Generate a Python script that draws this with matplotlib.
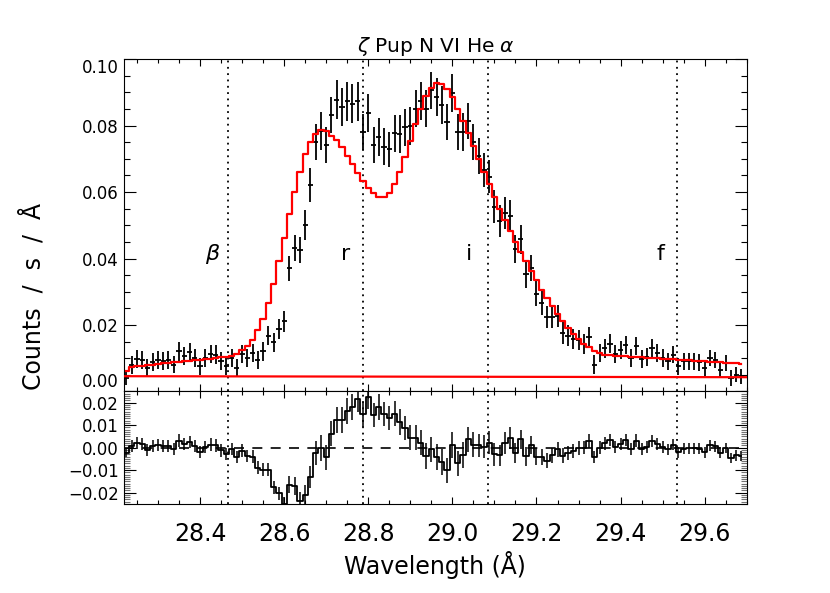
import numpy as np
import matplotlib
matplotlib.use('Agg')
import matplotlib.pyplot as plt
from matplotlib.ticker import MultipleLocator, FuncFormatter

# bin centres (LETG, 0.0125 A bins)
wave = 28.225 + 0.0125 * np.arange(118)

flux = [0.0040, 0.0081, 0.0098, 0.0094, 0.0071, 0.0088, 0.0096, 0.0091, 0.0094, 0.0081,
        0.0121, 0.0108, 0.0118, 0.0101, 0.0076, 0.0101, 0.0113, 0.0111, 0.0091, 0.0076,
        0.0101, 0.0071, 0.0113, 0.0101, 0.0116, 0.0096, 0.0121, 0.0168, 0.0148, 0.0188,
        0.0211, 0.0370, 0.0431, 0.0426, 0.0501, 0.0621, 0.0751, 0.0784, 0.0741, 0.0831,
        0.0878, 0.0856, 0.0873, 0.0866, 0.0873, 0.0781, 0.0838, 0.0741, 0.0766, 0.0736,
        0.0728, 0.0776, 0.0774, 0.0794, 0.0799, 0.0851, 0.0874, 0.0851, 0.0906, 0.0886,
        0.0861, 0.0811, 0.0899, 0.0781, 0.0781, 0.0814, 0.0751, 0.0708, 0.0666, 0.0646,
        0.0556, 0.0514, 0.0538, 0.0528, 0.0428, 0.0458, 0.0354, 0.0371, 0.0294, 0.0266,
        0.0224, 0.0223, 0.0228, 0.0176, 0.0168, 0.0158, 0.0156, 0.0144, 0.0164, 0.0081,
        0.0116, 0.0130, 0.0144, 0.0113, 0.0124, 0.0141, 0.0101, 0.0136, 0.0098, 0.0104,
        0.0131, 0.0116, 0.0101, 0.0091, 0.0111, 0.0076, 0.0091, 0.0091, 0.0091, 0.0088,
        0.0071, 0.0101, 0.0096, 0.0066, 0.0086, 0.0041, 0.0051, 0.0046]

# 1-sigma errors
err = [0.0020, 0.0027, 0.0027, 0.0027, 0.0026, 0.0027, 0.0027, 0.0027, 0.0027, 0.0026,
       0.0028, 0.0027, 0.0028, 0.0027, 0.0026, 0.0027, 0.0028, 0.0028, 0.0027, 0.0026,
       0.0027, 0.0026, 0.0028, 0.0027, 0.0028, 0.0027, 0.0028, 0.0029, 0.0029, 0.0030,
       0.0031, 0.0037, 0.0040, 0.0040, 0.0045, 0.0050, 0.0055, 0.0057, 0.0055, 0.0055,
       0.0058, 0.0058, 0.0058, 0.0058, 0.0058, 0.0055, 0.0057, 0.0055, 0.0057, 0.0055,
       0.0053, 0.0055, 0.0057, 0.0055, 0.0057, 0.0055, 0.0057, 0.0057, 0.0055, 0.0057,
       0.0057, 0.0055, 0.0057, 0.0055, 0.0057, 0.0055, 0.0055, 0.0053, 0.0050, 0.0050,
       0.0050, 0.0048, 0.0048, 0.0048, 0.0043, 0.0043, 0.0042, 0.0040, 0.0038, 0.0035,
       0.0034, 0.0033, 0.0033, 0.0032, 0.0031, 0.0031, 0.0030, 0.0030, 0.0030, 0.0028,
       0.0028, 0.0028, 0.0028, 0.0027, 0.0027, 0.0027, 0.0027, 0.0027, 0.0026, 0.0026,
       0.0026, 0.0026, 0.0026, 0.0025, 0.0025, 0.0025, 0.0025, 0.0025, 0.0025, 0.0025,
       0.0024, 0.0024, 0.0024, 0.0024, 0.0024, 0.0023, 0.0023, 0.0023]

# model (red histogram)
model = [0.0063, 0.0073, 0.0076, 0.0078, 0.0080, 0.0081, 0.0083, 0.0085, 0.0086, 0.0088,
         0.0089, 0.0091, 0.0092, 0.0094, 0.0095, 0.0097, 0.0099, 0.0101, 0.0103, 0.0105,
         0.0108, 0.0113, 0.0126, 0.0138, 0.0156, 0.0184, 0.0219, 0.0266, 0.0324, 0.0391,
         0.0463, 0.0534, 0.0601, 0.0661, 0.0713, 0.0751, 0.0774, 0.0786, 0.0784, 0.0769,
         0.0756, 0.0734, 0.0708, 0.0684, 0.0656, 0.0633, 0.0611, 0.0596, 0.0586, 0.0586,
         0.0596, 0.0624, 0.0659, 0.0706, 0.0754, 0.0806, 0.0851, 0.0888, 0.0913, 0.0928,
         0.0924, 0.0911, 0.0886, 0.0851, 0.0814, 0.0776, 0.0738, 0.0698, 0.0661, 0.0623,
         0.0586, 0.0548, 0.0516, 0.0484, 0.0451, 0.0421, 0.0391, 0.0361, 0.0334, 0.0306,
         0.0281, 0.0256, 0.0234, 0.0211, 0.0191, 0.0174, 0.0158, 0.0144, 0.0134, 0.0123,
         0.0116, 0.0111, 0.0110, 0.0108, 0.0107, 0.0106, 0.0105, 0.0104, 0.0103, 0.0102,
         0.0101, 0.0100, 0.0099, 0.0098, 0.0097, 0.0096, 0.0095, 0.0094, 0.0093, 0.0092,
         0.0091, 0.0090, 0.0089, 0.0088, 0.0087, 0.0086, 0.0085, 0.0084]

# continuum level
cont_wave = [28.22, 29.70]
cont_flux = [0.0046, 0.0043]

# line positions
line_waves = [28.466, 28.787, 29.084, 29.535]
line_names = [r'$\beta$', 'r', 'i', 'f']
label_shift = [-0.035, -0.040, -0.045, -0.040]

top_ticks = [0.00, 0.02, 0.04, 0.06, 0.08, 0.10]
res_ticks = [-0.02, -0.01, 0.00, 0.01, 0.02]

flux = np.array(flux)
model = np.array(model)
resid = flux - model

plt.rcParams['font.family'] = ['DejaVu Sans']
plt.rcParams['mathtext.fontset'] = 'dejavusans'

fig = plt.figure(figsize=(8.3, 5.93), dpi=100)
ax1 = fig.add_axes([0.1498, 0.3398, 0.7499, 0.5607])
ax2 = fig.add_axes([0.1498, 0.1501, 0.7499, 0.1897])

# top panel
ax1.errorbar(wave, flux, yerr=err, xerr=0.00625, fmt='none', ecolor='k',
             elinewidth=1.3, capsize=0, zorder=3)
ax1.plot(wave, model, drawstyle='steps-mid', color='red', lw=1.6, zorder=4)
ax1.plot(cont_wave, cont_flux, color='red', lw=1.6, zorder=4)
for w, name, dx in zip(line_waves, line_names, label_shift):
    ax1.axvline(w, color='k', ls=(0, (1, 2.5)), lw=1.3)
    ax1.text(w + dx, 0.0415, name, fontsize=16, ha='center', va='center')

ax1.set_xlim(28.22, 29.70)
ax1.set_ylim(0, 0.10)
ax1.xaxis.set_major_locator(MultipleLocator(0.2))
ax1.xaxis.set_minor_locator(MultipleLocator(0.05))
ax1.set_yticks(top_ticks)
ax1.set_yticklabels(['%.2f' % v for v in top_ticks])
ax1.yaxis.set_minor_locator(MultipleLocator(0.005))
ax1.tick_params(labelbottom=False)
ylabs = ax1.get_yticklabels()
ylabs[0].set_va('bottom')
ylabs[-1].set_va('top')
ax1.set_title(r'$\zeta$ Pup N VI He $\alpha$', fontsize=14.5, pad=5)

# residual panel
ax2.errorbar(wave, resid, yerr=err, fmt='none', ecolor='k', elinewidth=1.1,
             capsize=0, zorder=3)
ax2.plot(wave, resid, drawstyle='steps-mid', color='k', lw=1.3, zorder=4)
ax2.axhline(0, color='k', ls=(0, (6, 5)), lw=1.2)
for w in line_waves:
    ax2.axvline(w, color='k', ls=(0, (1, 2.5)), lw=1.3)

ax2.set_xlim(28.22, 29.70)
ax2.set_ylim(-0.025, 0.025)
ax2.xaxis.set_major_locator(MultipleLocator(0.2))
ax2.xaxis.set_minor_locator(MultipleLocator(0.05))
ax2.set_yticks(res_ticks)
ax2.set_yticklabels([('%.2f' % v).replace('-', '\u2212') for v in res_ticks])
ax2.yaxis.set_minor_locator(MultipleLocator(0.001))
ax2.xaxis.set_major_formatter(FuncFormatter(lambda v, p: '%.1f' % v))

for ax in (ax1, ax2):
    ax.tick_params(which='both', direction='in', top=True, right=True, width=0.8)
    ax.tick_params(axis='y', which='major', length=8.5, labelsize=12, pad=4)
    ax.tick_params(axis='y', which='minor', length=4.3)
    ax.tick_params(axis='x', which='major', length=5)
    ax.tick_params(axis='x', which='minor', length=3)
    for s in ax.spines.values():
        s.set_linewidth(0.8)
ax2.tick_params(axis='x', which='major', labelsize=17, pad=13)
ax2.tick_params(axis='y', which='minor', length=4, color='0.45')

fig.text(435 / 830, 1 - 565 / 593, 'Wavelength (\u00c5)', fontsize=17,
         ha='center', va='center')
fig.text(33 / 830, 1 - 296 / 593, 'Counts  /  s  /  \u00c5', fontsize=17,
         ha='center', va='center', rotation=90)

fig.savefig('out.png', dpi=100)
